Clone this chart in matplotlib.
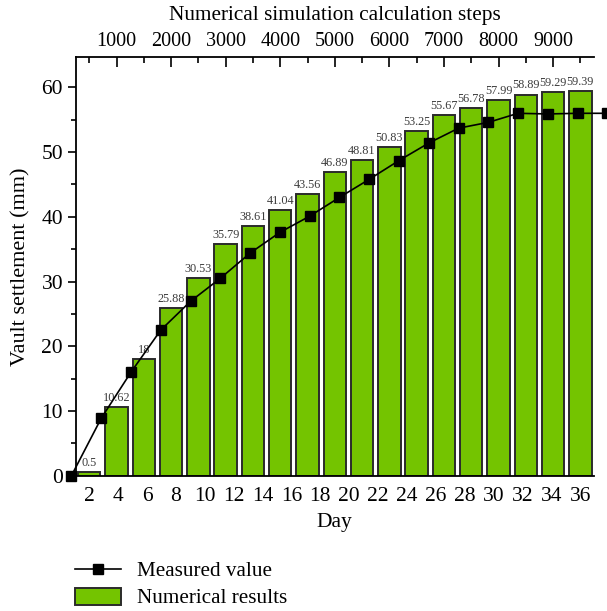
import matplotlib
matplotlib.use("Agg")
import matplotlib.pyplot as plt
import numpy as np
from matplotlib.ticker import MultipleLocator

plt.rcParams['font.family'] = ['Liberation Serif', 'DejaVu Serif']

# numerical results (bars), placed on the calculation-steps axis
steps = [500, 1000, 1500, 2000, 2500, 3000, 3500, 4000, 4500, 5000,
         5500, 6000, 6500, 7000, 7500, 8000, 8500, 9000, 9500]
numerical = [0.5, 10.62, 18, 25.88, 30.53, 35.79, 38.61, 41.04, 43.56, 46.89,
             48.81, 50.83, 53.25, 55.67, 56.78, 57.99, 58.89, 59.29, 59.39]
num_labels = ['0.5', '10.62', '18', '25.88', '30.53', '35.79', '38.61', '41.04', '43.56',
              '46.89', '48.81', '50.83', '53.25', '55.67', '56.78', '57.99', '58.89',
              '59.29', '59.39']

# measured settlement by day
meas_days = [0, 2, 4, 6, 8, 10, 12, 14, 16, 18, 20, 22, 24, 26, 28, 30, 32, 34, 36]
measured = [0, 8.87, 16.0, 22.5, 26.95, 30.5, 34.4, 37.6, 40.1, 43.0,
            45.8, 48.7, 51.4, 53.7, 54.6, 56.0, 55.9, 56.0, 56.0]

day_ticks = [2, 4, 6, 8, 10, 12, 14, 16, 18, 20, 22, 24, 26, 28, 30, 32, 34, 36]
step_ticks = [1000, 2000, 3000, 4000, 5000, 6000, 7000, 8000, 9000]

W, H = 607, 611
fig = plt.figure(figsize=(W / 100, H / 100), dpi=100)
x0, x1, y0, y1 = 75.6, 594, 57, 475.7
ax = fig.add_axes([x0 / W, 1 - y1 / H, (x1 - x0) / W, (y1 - y0) / H])

# measured values get their own hidden day scale (made first, twiny resets ticks)
mx = ax.twiny()
mx.set_xlim(0.279, 35.1)
mx.axis('off')
line, = mx.plot(meas_days, measured, color='black', linewidth=1.2, marker='s',
                markersize=7.5, clip_on=False, label='Measured value', zorder=5)

green = '#74c400'
bars = ax.bar(steps, numerical, width=410, color=green, edgecolor='#2b2b2b',
              linewidth=1.4, label='Numerical results', zorder=2)
for xs, v, t in zip(steps, numerical, num_labels):
    ax.text(xs, v + 0.5, t, ha='center', va='bottom', fontsize=8.8, color='#3c3c3c')

ax.set_xlim(250, 9750)
ax.set_ylim(0, 64.7)

# top axis: calculation steps
ax.xaxis.tick_top()
ax.xaxis.set_label_position('top')
ax.set_xticks(step_ticks)
ax.xaxis.set_minor_locator(MultipleLocator(500))
ax.tick_params(axis='x', which='major', direction='in', length=7, width=1.2,
               labelsize=14.5, pad=4)
ax.tick_params(axis='x', which='minor', direction='in', length=4, width=1.2)
ax.set_xlabel('Numerical simulation calculation steps', fontsize=15.3, labelpad=9)

# y axis
ax.yaxis.set_major_locator(MultipleLocator(10))
ax.yaxis.set_minor_locator(MultipleLocator(5))
ax.tick_params(axis='y', which='major', direction='out', length=6, width=1.2,
               labelsize=15.5, pad=3)
ax.tick_params(axis='y', which='minor', direction='out', length=3.5, width=1.2)
ax.set_ylabel('Vault settlement (mm)', fontsize=16, labelpad=8)

ax.spines['right'].set_visible(False)
for s in ['left', 'top', 'bottom']:
    ax.spines[s].set_linewidth(1.3)

# bottom axis: day
def s2d(s):
    return 2 + (np.asarray(s) - 500) / 9000 * 34

def d2s(d):
    return 500 + (np.asarray(d) - 2) / 34 * 9000

bax = ax.secondary_xaxis('bottom', functions=(s2d, d2s))
bax.set_xticks(day_ticks)
bax.tick_params(axis='x', length=0, labelsize=15.5, pad=8)
bax.spines['bottom'].set_visible(False)
bax.set_xlabel('Day', fontsize=15.5, labelpad=5)

fig.legend([line, bars], ['Measured value', 'Numerical results'],
           loc='lower left', bbox_to_anchor=(0.1, -0.02), frameon=False,
           fontsize=15.2, handlelength=2.15, handleheight=0.85, handletextpad=0.75,
           labelspacing=0.3, borderaxespad=0.3)

fig.savefig('out.png', dpi=100)
